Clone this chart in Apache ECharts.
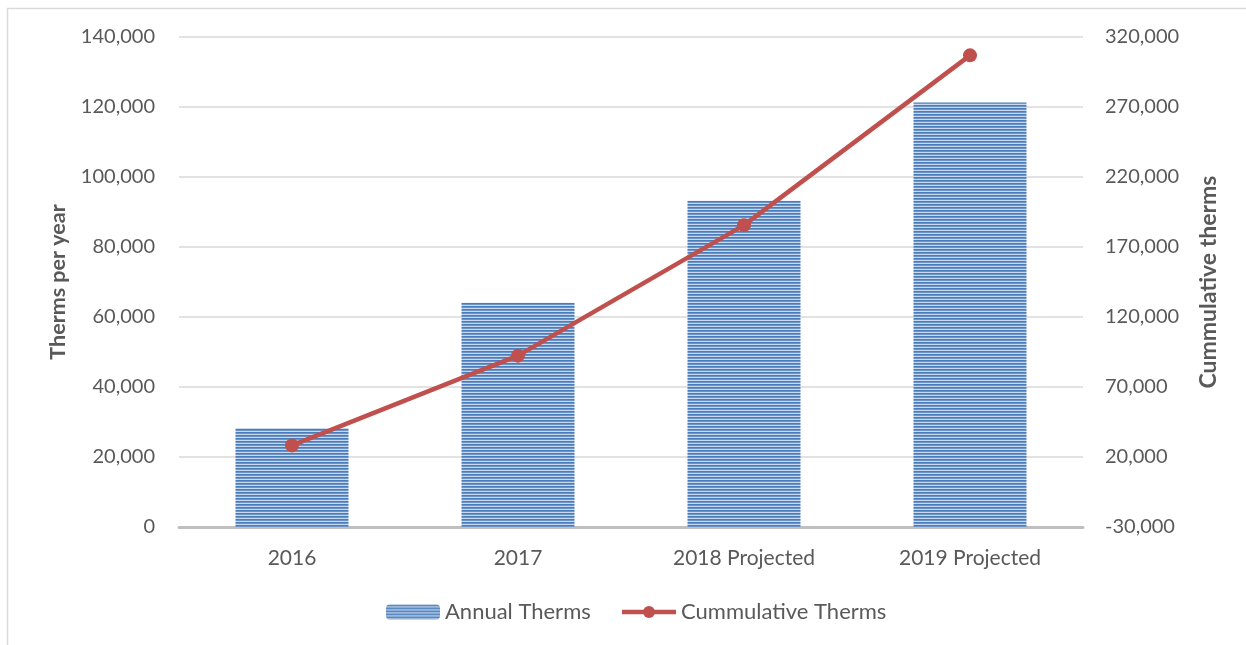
<!DOCTYPE html>
<html>
<head>
<meta charset="utf-8">
<script src="https://cdn.jsdelivr.net/npm/echarts@6/dist/echarts.min.js"></script>
<style>
  html, body { margin: 0; padding: 0; background: #fff; }
  #chart { width: 1246px; height: 645px; }
</style>
</head>
<body>
<div id="chart"></div>
<script>
// Categories and values
const categories = ['2016', '2017', '2018 Projected', '2019 Projected'];
const annualTherms = [28300, 64100, 93200, 121300];
const cumulativeTherms = [28300, 92400, 185600, 306900];
const leftTicks = [0, 20000, 40000, 60000, 80000, 100000, 120000, 140000];
const rightTicks = [-30000, 20000, 70000, 120000, 170000, 220000, 270000, 320000];

// Horizontal stripe fill for the bars
function stripePattern() {
  const c = document.createElement('canvas');
  c.width = 4; c.height = 3;
  const g = c.getContext('2d');
  g.fillStyle = '#4a7ebb'; g.fillRect(0, 0, 4, 1);
  g.fillStyle = '#6b94c9'; g.fillRect(0, 1, 4, 1);
  g.fillStyle = '#c9d8ee'; g.fillRect(0, 2, 4, 1);
  return c;
}

const FONT = 'Lato';
const TXT = '#595959';
const RED = '#c0504d';
const fmt = v => v.toLocaleString('en-US');

const chart = echarts.init(document.getElementById('chart'), null, { renderer: 'canvas' });
chart.setOption({
  animation: false,
  textStyle: { fontFamily: FONT, color: TXT },
  graphic: [{
    type: 'rect', silent: true, z: -10,
    shape: { x: 7.5, y: 8.5, width: 1300, height: 700 },
    style: { fill: 'none', stroke: '#d9d9d9', lineWidth: 1.5 }
  }],
  grid: { left: 179, right: 163, top: 37, bottom: 118 },
  legend: {
    bottom: 17, left: 381,
    itemWidth: 54, itemHeight: 15, itemGap: 29,
    textStyle: { fontFamily: FONT, fontSize: 22, color: TXT },
    data: [
      { name: 'Annual Therms' },
      { name: 'Cummulative Therms', lineStyle: { width: 4.5 } }
    ]
  },
  xAxis: {
    type: 'category',
    data: categories,
    axisLine: { lineStyle: { color: '#bfbfbf', width: 3 } },
    axisTick: { show: false },
    axisLabel: { fontFamily: FONT, fontSize: 21, color: TXT, margin: 21 }
  },
  yAxis: [{
    type: 'value',
    min: leftTicks[0], max: leftTicks[leftTicks.length - 1], interval: 20000,
    name: 'Therms per year', nameLocation: 'middle', nameGap: 110,
    nameTextStyle: { fontFamily: FONT, fontSize: 21.5, fontWeight: 'bold', color: TXT },
    axisLine: { show: false }, axisTick: { show: false },
    axisLabel: { fontFamily: FONT, fontSize: 20, color: TXT, margin: 24, formatter: fmt },
    splitLine: { lineStyle: { color: '#d9d9d9', width: 1.5 } }
  }, {
    type: 'value',
    min: rightTicks[0], max: rightTicks[rightTicks.length - 1],
    name: 'Cummulative therms', nameLocation: 'middle', nameGap: 114,
    nameTextStyle: { fontFamily: FONT, fontSize: 23, fontWeight: 'bold', color: TXT },
    axisLine: { show: false }, axisTick: { show: false },
    axisLabel: { fontFamily: FONT, fontSize: 20, color: TXT, margin: 22, formatter: fmt, customValues: rightTicks },
    splitLine: { show: false }
  }],
  series: [{
    name: 'Annual Therms',
    type: 'bar',
    yAxisIndex: 0,
    barWidth: '50%',
    data: annualTherms,
    itemStyle: { color: { image: stripePattern(), repeat: 'repeat' } }
  }, {
    name: 'Cummulative Therms',
    type: 'line',
    yAxisIndex: 1,
    data: cumulativeTherms,
    symbol: 'circle', symbolSize: 14,
    lineStyle: { color: RED, width: 4.5 },
    itemStyle: { color: RED },
    z: 5
  }]
});
</script>
</body>
</html>
